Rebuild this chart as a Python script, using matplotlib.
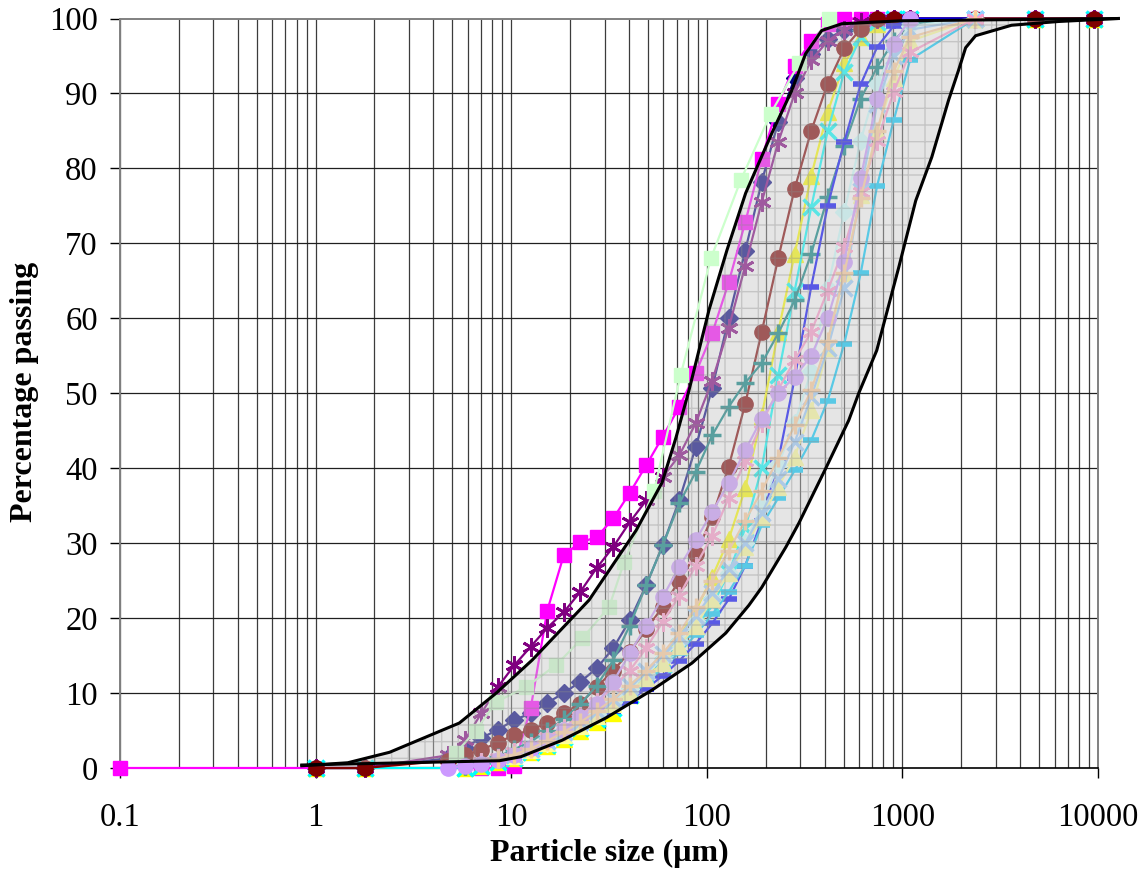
import matplotlib
matplotlib.use("Agg")
import matplotlib.pyplot as plt
from matplotlib.patches import Polygon
from matplotlib.ticker import NullLocator, FixedLocator

# ---------------- data ----------------
laser = [4.77, 5.79, 7.03, 8.54, 10.37, 12.59, 15.29, 18.57, 22.55, 27.38,
         33.25, 40.37, 49.02, 59.53, 72.29, 87.78, 106.6, 129.4, 157.2, 190.9,
         231.8, 281.4, 341.7, 415.0, 503.9, 611.9, 743.0, 902.3, 1095.7]
head_x = [1.0, 1.78]
tail_x = [2360, 4750, 9500]

navy_y = [1.3, 2.7, 4, 5.1, 6.4, 7.3, 8.7, 10, 11.5, 13.3, 16, 19.7, 24.4, 29.7,
          35.7, 42.8, 50.7, 60, 69, 78.2, 86.2, 92, 95.3, 97.3, 98.5, 99.3, 99.8, 100, 100]
magenta_x = [0.1] + laser[2:]
magenta_y = [0, 0, 0, 0.3, 8, 21, 28.4, 30.1, 30.8, 33.3, 36.7, 40.4, 44.2, 48.2,
             52.7, 58, 64.8, 72.8, 81.3, 88.6, 93.7, 97, 99.3, 100, 100, 100, 100, 100]
yellow_y = [0, 0.3, 0.8, 1.4, 2.1, 2.9, 3.9, 5, 6.2, 7.4, 9.7, 12, 14.4, 17.5,
            21, 25.5, 30.5, 37.3, 47, 58.2, 68.6, 79, 87.5, 94, 97.5, 99.3, 100, 100]
cyan_y = [0, 0.3, 0.8, 1.4, 2.2, 3.1, 4.1, 5.3, 6.6, 8, 9.7, 11.6, 13.8, 16.2,
          18.8, 21.7, 26, 32, 40, 52.4, 63.7, 74.8, 85, 92.8, 97.5, 99.5, 100, 100]
purple_y = [1.7, 3.7, 7.3, 10.8, 13.7, 16.2, 18.7, 20.8, 23.5, 26.7, 29.5, 32.8, 35.7,
            38.8, 41.7, 46, 51.7, 58.7, 67, 75.5, 83.5, 90, 94.4, 97, 98.5, 99.5, 100, 100, 100]
maroon_y = [1, 1.7, 2.4, 3.4, 4.4, 5.1, 6, 7.3, 8.6, 10.8, 13, 15.5, 18.5, 21.5, 25,
            28.5, 33.5, 40.2, 48.6, 58.2, 68, 77.3, 85, 91.3, 96, 98.6, 100, 100, 100]
teal_y = [0.3, 0.8, 1.5, 2.5, 3.5, 5, 6.5, 8.5, 11, 14.4, 19, 24.4, 29.7, 35.3, 39.5,
          44.4, 48.2, 51.4, 54, 58, 62.4, 68.6, 76.2, 83, 89.3, 93.5, 97, 99.3]
blue_y = [1.4, 2.1, 3, 4, 5.1, 6.3, 7.6, 9, 10.6, 12.3, 14.3, 16.6, 19.3, 22.5, 27, 33,
          41, 52, 64.2, 75, 83.5, 91.2, 96.2, 99, 100]
sky_y = [1.5, 2.2, 3.1, 4.1, 5.3, 6.6, 8, 9.6, 11.4, 13.3, 15.4, 17.8, 20.5, 23.5, 27,
         32.4, 36, 39.7, 43.7, 49, 56.6, 66, 77.7, 86.4, 94.5]
lcyan_y = [2.5, 3.4, 4.5, 5.8, 7.2, 8.8, 10.5, 12.5, 14.6, 17, 19.6, 22.5, 26, 30, 35,
           40.5, 46, 53, 64, 74.2, 83.7, 91.3, 96, 99]
lgreen_x = [5.2, 6.6, 8.36, 11.9, 16.9, 23.1, 31.7, 37.8, 53.8, 73.6, 105, 149, 212, 296, 420]
lgreen_y = [2, 5, 8.8, 10.8, 13.7, 17.3, 21.5, 27.5, 37, 52.5, 68, 78.4, 87.3, 94, 100]
lyellow_y = [1.6, 2.4, 3.3, 4.4, 5.6, 7, 8.5, 10.2, 12, 14, 16.3, 19, 22.5, 26, 29.5,
             33.5, 37.5, 41.5, 47.7, 56, 66, 76.5, 85, 92, 97]
lblue_y = [1.8, 2.6, 3.6, 4.8, 6.1, 7.6, 9.2, 11, 13, 15.2, 17.6, 20.3, 23.3, 26.5, 30,
           34, 38.5, 43.5, 49.5, 56, 64, 77, 88.6, 95, 98.5]
pink_y = [0.8, 1.4, 2.1, 3, 4.1, 5.4, 7, 8.8, 10.8, 13, 16, 19.5, 23, 27, 31, 36, 41,
          46, 50.5, 54.4, 58.2, 63.7, 69.5, 76.8, 83.7, 90.2, 95.5]
lavender_y = [0, 0.3, 0.6, 1.1, 1.8, 2.7, 3.8, 5.1, 6.8, 8.6, 11.5, 15.3, 19, 22.8,
              26.8, 30.4, 34.2, 38, 42.4, 46.6, 50, 52.2, 55, 60, 67.5, 78.7, 89.3, 96.6, 100]
tan_y = [1.2, 1.8, 2.6, 3.6, 4.8, 6.1, 7.6, 9.2, 11, 13, 15.3, 18, 21.5, 25, 29, 33,
         37, 41.3, 45.7, 50.4, 57, 66, 76, 85, 93, 97.5]

upper_x = [0.85, 1.46, 2.39, 5.43, 8.39, 12.8, 25.0, 43.5, 59.1, 69.6, 81.1, 102.6,
           126.8, 158, 215, 272, 320, 387, 490, 1000, 12700]
upper_y = [0.3, 0.7, 2.1, 6.0, 10.0, 14.4, 22.4, 31.7, 38.1, 44.1, 50.4, 61.1,
           69.1, 76.7, 84.7, 90.4, 95.3, 98.4, 99.3, 99.7, 100]
lower_x = [0.85, 8.7, 11.2, 18.2, 30.6, 52.5, 84.0, 125, 164, 191, 254, 296, 406, 532,
           598, 739, 958, 1170, 1413, 1722, 1937, 2105, 2366, 3614, 6280, 12700]
lower_y = [0.4, 0.97, 1.5, 3.7, 6.7, 10.4, 14.0, 18.0, 21.7, 24.1, 29.5, 32.7, 40, 46.4,
           50, 55.7, 66.8, 75.7, 81.5, 89.1, 93.1, 96.1, 97.7, 99.1, 99.6, 100]

xticks = [0.1, 1, 10, 100, 1000, 10000]
xticklabels = ["0.1", "1", "10", "100", "1000", "10000"]
yticks = list(range(0, 101, 10))

# series definitions: (x, y, color, marker, size, mew)
series = [
    (head_x + laser + tail_x, [0, 0] + navy_y + [100] * 3, "#000080", "D", 9, 1),
    (magenta_x + tail_x, magenta_y + [100] * 3, "#FF00FF", "s", 10, 1),
    (head_x + laser[1:] + tail_x, [0, 0] + yellow_y + [100] * 3, "#FFFF00", "^", 11, 1),
    (head_x + laser[1:] + tail_x, [0, 0] + cyan_y + [100] * 3, "#00FFFF", "x", 11, 2.5),
    (head_x + laser + tail_x, [0, 0] + purple_y + [100] * 3, "#800080", (6, 2, 0), 13, 2),
    (head_x + laser + tail_x, [0, 0] + maroon_y + [100] * 3, "#800000", "o", 11, 1),
    (laser[1:] + [2360], teal_y + [100], "#008080", "+", 13, 2.5),
    (laser[4:] + [2360], blue_y + [100], "#0000FF", "_", 12, 4),
    (laser[4:] + [2360], sky_y + [100], "#00CCFF", "_", 12, 4),
    (laser[5:] + [2360], lcyan_y + [100], "#CCFFFF", "D", 9, 1),
    (lgreen_x, lgreen_y, "#CCFFCC", "s", 10, 1),
    (laser[4:] + [2360], lyellow_y + [100], "#FFFF99", "^", 11, 1),
    (laser[4:] + [2360], lblue_y + [100], "#99CCFF", "x", 11, 2.5),
    (laser[2:] + [2360], pink_y + [100], "#FF99CC", (6, 2, 0), 13, 2),
    (laser, lavender_y, "#CC99FF", "o", 11, 1),
    (laser[3:] + [2360], tan_y + [100], "#FFCC99", "+", 13, 2.5),
]

# ---------------- figure ----------------
W, H = 1144, 869
fig = plt.figure(figsize=(W / 100, H / 100), dpi=100)
ax = fig.add_axes([120 / W, (H - 768) / H, (1098 - 120) / W, (768 - 18.5) / H])
ax.set_xscale("log")
ax.set_xlim(0.1, 10000)
ax.set_ylim(0, 100)

# grid
for dec in [0.1, 1, 10, 100, 1000]:
    for k in range(1, 10):
        ax.axvline(dec * k, color="#3c3c3c", lw=0.9, zorder=1)
for yv in range(10, 100, 10):
    ax.axhline(yv, color="#202020", lw=0.9, zorder=1)

# series
for i, (xs, ys, col, mk, ms, mew) in enumerate(series):
    ax.plot(xs, ys, color=col, lw=1.6, marker=mk, markersize=ms,
            markerfacecolor=col, markeredgecolor=col, markeredgewidth=mew,
            zorder=5 + i, clip_on=False)

# shaded envelope (semi-transparent overlay with fine grid texture)
poly_pts = list(zip(upper_x, upper_y)) + list(zip(lower_x[::-1], lower_y[::-1]))
band = Polygon(poly_pts, closed=True, facecolor=(199 / 255, 199 / 255, 199 / 255),
               alpha=0.45, edgecolor="none", zorder=50, clip_on=False)
ax.add_patch(band)
plt.rcParams["hatch.linewidth"] = 1.0
band_h = Polygon(poly_pts, closed=True, facecolor="none", edgecolor="#8a8a8a",
                 hatch="+", lw=0, alpha=0.35, zorder=51, clip_on=False)
ax.add_patch(band_h)
ax.plot(upper_x, upper_y, color="black", lw=2.2, zorder=60, clip_on=False)
ax.plot(lower_x, lower_y, color="black", lw=2.2, zorder=60, clip_on=False)

# axes styling
for side in ["left", "top", "right"]:
    ax.spines[side].set_color("#808080")
    ax.spines[side].set_linewidth(1.4)
ax.spines["bottom"].set_color("black")
ax.spines["bottom"].set_linewidth(1.2)
ax.xaxis.set_major_locator(FixedLocator(xticks))
ax.xaxis.set_minor_locator(NullLocator())
ax.set_xticklabels(xticklabels)
ax.set_yticks(yticks)
ax.tick_params(axis="both", direction="out", length=7, width=1, color="black",
               labelsize=23.5)
ax.tick_params(axis="x", pad=17.5)
ax.tick_params(axis="y", pad=9)
for lab in ax.get_xticklabels() + ax.get_yticklabels():
    lab.set_fontfamily("Liberation Serif")

fig.text(609 / W, 1 - 853 / H, "Particle size (μm)", ha="center", va="center",
         fontsize=23, fontweight="bold", family="Liberation Serif")
fig.text(25 / W, 1 - 392 / H, "Percentage passing", ha="center", va="center",
         rotation=90, fontsize=23, fontweight="bold", family="Liberation Serif")

fig.savefig("out.png", dpi=100)
